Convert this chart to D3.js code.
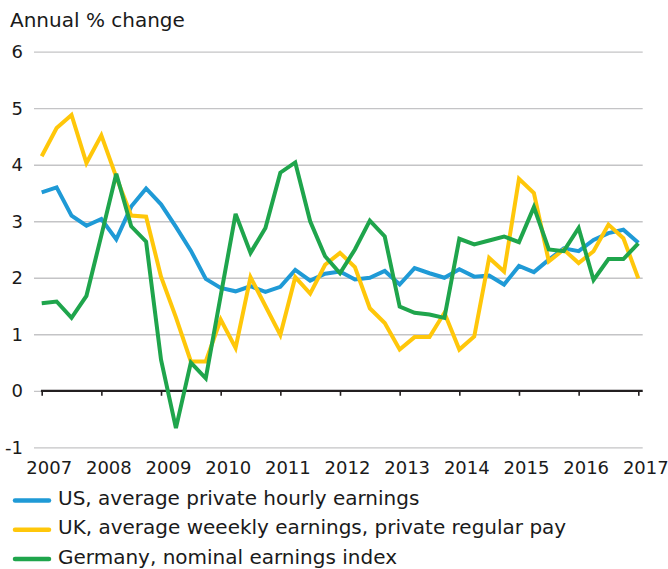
<!DOCTYPE html>
<html>
<head>
<meta charset="utf-8">
<script src="https://cdn.jsdelivr.net/npm/d3@7"></script>
<style>
  body { margin: 0; background: #fff; }
  svg text { font-family: "DejaVu Sans", sans-serif; fill: #1a1a1a; }
</style>
</head>
<body>
<div class="chart"></div>
<script>
var totalWidth = 668;
var totalHeight = 569;

// DATA STUFF (quarterly, 2007Q1 .. 2017Q1)

var quarters = d3.range(41).map(function(i) { return 2007 + i / 4; });

var usValues = [3.51, 3.60, 3.10, 2.92, 3.04, 2.68, 3.26, 3.58, 3.30, 2.90,
  2.48, 1.98, 1.82, 1.76, 1.85, 1.75, 1.84, 2.14, 1.95, 2.07,
  2.11, 1.97, 2.00, 2.12, 1.88, 2.17, 2.08, 2.00, 2.15, 2.02,
  2.04, 1.88, 2.21, 2.10, 2.32, 2.52, 2.47, 2.67, 2.79, 2.85, 2.62];

var ukValues = [4.15, 4.65, 4.88, 4.03, 4.52, 3.78, 3.10, 3.08, 2.02, 1.30,
  0.52, 0.52, 1.26, 0.76, 2.01, 1.50, 0.99, 2.01, 1.72, 2.23,
  2.44, 2.19, 1.46, 1.20, 0.73, 0.95, 0.95, 1.38, 0.73, 0.96,
  2.35, 2.11, 3.75, 3.50, 2.29, 2.50, 2.26, 2.47, 2.94, 2.70, 1.99];

var deValues = [1.55, 1.58, 1.29, 1.68, 2.75, 3.84, 2.91, 2.64, 0.55, -0.66,
  0.50, 0.22, 1.68, 3.13, 2.44, 2.88, 3.86, 4.04, 3.00, 2.38,
  2.08, 2.50, 3.01, 2.73, 1.49, 1.38, 1.35, 1.29, 2.69, 2.59,
  2.66, 2.73, 2.63, 3.25, 2.50, 2.47, 2.88, 1.96, 2.33, 2.33, 2.61];

var seriesNames = [
  "US, average private hourly earnings",
  "UK, average weeekly earnings, private regular pay",
  "Germany, nominal earnings index"
];
var seriesColors = ["#1f9ad6", "#ffc70a", "#1fa54c"];

var yTicks = [-1, 0, 1, 2, 3, 4, 5, 6];
var xTicks = [2007, 2008, 2009, 2010, 2011, 2012, 2013, 2014, 2015, 2016, 2017];

var series = [usValues, ukValues, deValues].map(function(vals, k) {
  return {
    name: seriesNames[k],
    color: seriesColors[k],
    points: vals.map(function(v, i) { return { t: quarters[i], v: v }; })
  };
});

// SCALES

var xScale = d3.scaleLinear().domain([2007, 2017]).range([41.7, 638.3]);
var yScale = d3.scaleLinear().domain([-1, 6]).range([447.3, 51.7]);

var svg = d3
  .select(".chart")
  .append("svg")
  .attr("width", totalWidth)
  .attr("height", totalHeight);

// TITLE
svg.append("text")
  .attr("x", 10)
  .attr("y", 26.7)
  .style("font-size", "20px")
  .text("Annual % change");

// GRID + Y LABELS (plain hyphen for the minus sign)
var yAxis = d3.axisLeft(yScale)
  .tickValues(yTicks)
  .tickSize(0)
  .tickPadding(0)
  .tickFormat(function(d) { return String(d); });

svg.append("g")
  .attr("id", "yaxis")
  .attr("transform", "translate(23,0)")
  .call(yAxis)
  .call(function(g) {
    g.select(".domain").remove();
    g.selectAll(".tick text")
      .attr("x", 0)
      .attr("dy", "0.34em")
      .style("font-size", "18px")
      .style("font-family", "DejaVu Sans")
      .attr("fill", "#1a1a1a");
    g.selectAll(".tick line")
      .attr("x1", 11)
      .attr("x2", 642.7 - 23)
      .attr("stroke", "#c4c4c6")
      .attr("stroke-width", 1.3);
  });

// X AXIS
var xAxis = d3.axisBottom(xScale)
  .tickValues(xTicks)
  .tickSize(5)
  .tickFormat(d3.format("d"));

svg.append("g")
  .attr("id", "xaxis")
  .attr("transform", "translate(0," + yScale(0) + ")")
  .call(xAxis)
  .call(function(g) {
    g.select(".domain").remove();
    g.selectAll(".tick line")
      .attr("stroke", "#231f20")
      .attr("stroke-width", 1.6);
    g.selectAll(".tick text")
      .attr("x", 7)
      .attr("y", 83)
      .attr("dy", 0)
      .style("font-size", "18px")
      .style("font-family", "DejaVu Sans")
      .attr("fill", "#1a1a1a");
  });

svg.append("line")
  .attr("x1", xScale(2007) - 0.8)
  .attr("x2", 642.7)
  .attr("y1", yScale(0))
  .attr("y2", yScale(0))
  .attr("stroke", "#231f20")
  .attr("stroke-width", 2.2);

// LINES
var line = d3.line()
  .x(function(d) { return xScale(d.t); })
  .y(function(d) { return yScale(d.v); });

svg.append("g")
  .attr("id", "lines")
  .selectAll("path")
  .data(series)
  .enter()
  .append("path")
  .attr("d", function(d) { return line(d.points); })
  .attr("fill", "none")
  .attr("stroke", function(d) { return d.color; })
  .attr("stroke-width", 4)
  .attr("stroke-linejoin", "miter")
  .attr("stroke-miterlimit", 3);

// LEGEND
var legend = svg.append("g")
  .attr("id", "legend")
  .selectAll("g")
  .data(series)
  .enter()
  .append("g")
  .attr("transform", function(d, i) {
    return "translate(0," + (500.5 + i * 29.3) + ")";
  });

legend.append("line")
  .attr("x1", 15)
  .attr("x2", 49)
  .attr("stroke", function(d) { return d.color; })
  .attr("stroke-width", 4.5)
  .attr("stroke-linecap", "round");

legend.append("text")
  .attr("x", 58)
  .attr("y", 4.5)
  .style("font-size", "20px")
  .text(function(d) { return d.name; });
</script>
</body>
</html>
